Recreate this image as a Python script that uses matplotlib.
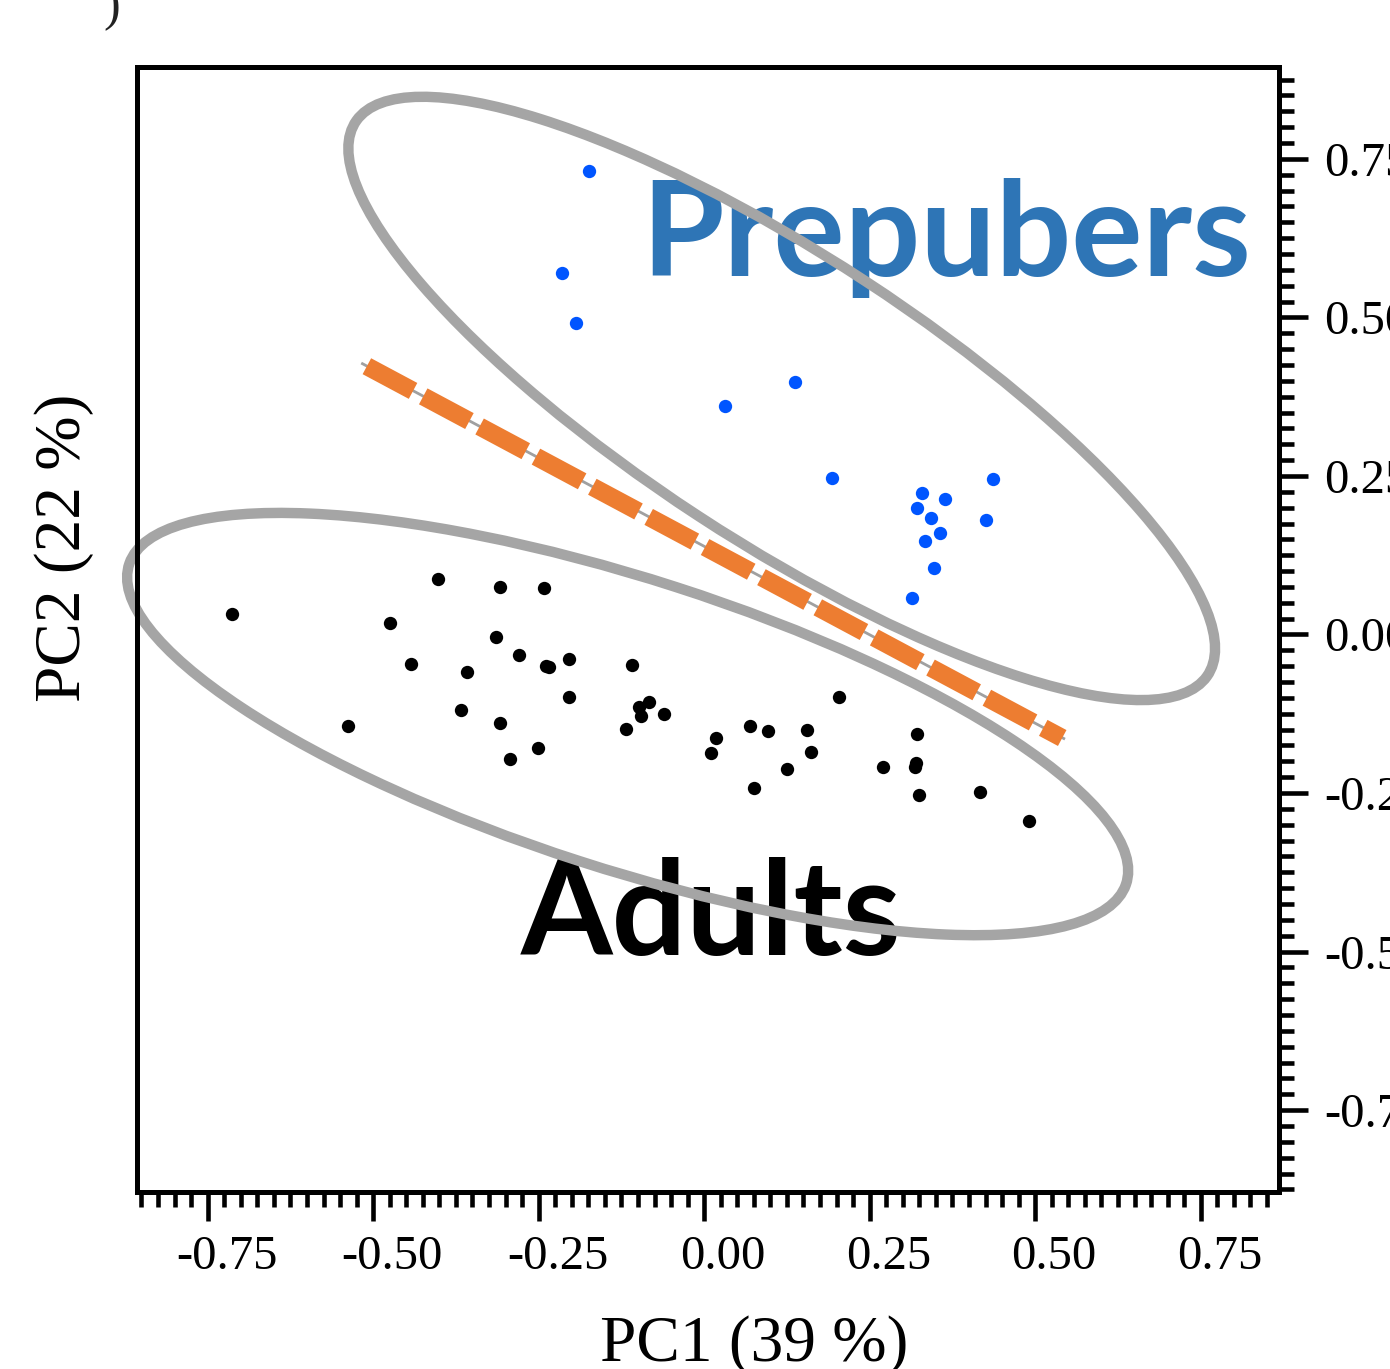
import matplotlib
matplotlib.use("Agg")
import matplotlib.pyplot as plt
from matplotlib.patches import Ellipse
from matplotlib.ticker import MultipleLocator, FormatStrFormatter
from matplotlib.transforms import ScaledTranslation

plt.rcParams["font.family"] = "Liberation Serif"
plt.rcParams["axes.unicode_minus"] = False

# PCA scores
prepubers_pc1 = [-0.1733, -0.2145, -0.1929, 0.1370, 0.0322, 0.1929, 0.4370, 0.3289,
                 0.3640, 0.3213, 0.3429, 0.4260, 0.3565, 0.3328, 0.3474, 0.3137]
prepubers_pc2 = [0.7315, 0.5707, 0.4909, 0.3978, 0.3609, 0.2473, 0.2448, 0.2227,
                 0.2132, 0.2000, 0.1833, 0.1806, 0.1596, 0.1475, 0.1044, 0.0571]

adults_pc1 = [-0.7125, -0.4023, -0.3077, -0.2412, -0.4743, -0.3142, -0.2790, -0.2394,
              -0.2341, -0.2035, -0.4426, -0.3576, -0.2039, -0.3671, -0.3077, -0.5373,
              -0.2503, -0.2931, -0.1088, -0.0831, -0.0977, -0.0956, -0.0604, -0.1178,
              0.2029, 0.0186, 0.0110, 0.0690, 0.0971, 0.1551, 0.1616, 0.1249,
              0.0751, 0.3218, 0.3207, 0.3177, 0.2708, 0.3243, 0.4165, 0.4899]
adults_pc2 = [0.0323, 0.0880, 0.0754, 0.0733, 0.0177, -0.0035, -0.0323, -0.0489,
              -0.0505, -0.0391, -0.0461, -0.0591, -0.0986, -0.1186, -0.1391, -0.1448,
              -0.1785, -0.1964, -0.0476, -0.1060, -0.1139, -0.1285, -0.1259, -0.1486,
              -0.0986, -0.1628, -0.1874, -0.1443, -0.1522, -0.1511, -0.1849, -0.2121,
              -0.2426, -0.1565, -0.2022, -0.2085, -0.2095, -0.2532, -0.2489, -0.2942]

# group ellipses: centre, width, height, angle
prepubers_ell = (0.1171, 0.3722, 1.555, 0.448, -34.3)
adults_ell = (-0.1156, -0.1412, 1.588, 0.456, -18.6)

# separating line
sep_x = [-0.518, 0.545]
sep_y = [0.428, -0.165]
dash_x = [-0.5095, 0.5408]
dash_y = [0.4230, -0.1632]

fig = plt.figure(figsize=(13.9, 13.69), dpi=100)
ax = fig.add_axes([0.0989, 0.1293, 0.8216, 0.8214])

ax.text(0.3663, 0.5655, "Prepubers", family="Lato", weight="bold", fontsize=96,
        color="#2e75b6", ha="center", va="baseline", zorder=1)
ax.text(0.0106, -0.5055, "Adults", family="Lato", weight="bold", fontsize=95,
        color="black", ha="center", va="baseline", zorder=1)

for cx, cy, w, h, ang in (prepubers_ell, adults_ell):
    ax.add_patch(Ellipse((cx, cy), w, h, angle=ang, fill=False, edgecolor="#a5a5a5",
                         linewidth=7.5, clip_on=False, zorder=1.5))

ax.plot(sep_x, sep_y, color="#a0a0a0", linewidth=2, solid_capstyle="butt", zorder=3)
ax.plot(dash_x, dash_y, color="#ed7d31", linewidth=13, dashes=(2.9, 0.64),
        dash_capstyle="butt", zorder=3.1)

ax.scatter(prepubers_pc1, prepubers_pc2, s=92, color="#0055ff", linewidths=0, zorder=4)
ax.scatter(adults_pc1, adults_pc2, s=92, color="black", linewidths=0, zorder=4)

ax.set_xlim(-0.856, 0.869)
ax.set_ylim(-0.879, 0.894)

ax.xaxis.set_major_locator(MultipleLocator(0.25))
ax.xaxis.set_minor_locator(MultipleLocator(0.025))
ax.yaxis.set_major_locator(MultipleLocator(0.25))
ax.yaxis.set_minor_locator(MultipleLocator(0.025))
ax.xaxis.set_major_formatter(FormatStrFormatter("%.2f"))
ax.yaxis.set_major_formatter(FormatStrFormatter("%.2f"))

ax.tick_params(which="both", direction="out", bottom=True, right=True, left=False, top=False,
               labelleft=False, labelright=True, labelsize=35, width=3.3)
ax.tick_params(which="major", length=21)
ax.tick_params(axis="x", which="major", pad=10)
ax.tick_params(axis="y", which="major", pad=11)
ax.tick_params(which="minor", length=11)

# x tick labels sit a little right of their ticks in the original
shift = ScaledTranslation(19 / 100, 0, fig.dpi_scale_trans)
for lbl in ax.get_xticklabels():
    lbl.set_transform(lbl.get_transform() + shift)

for sp in ax.spines.values():
    sp.set_linewidth(3.6)
    sp.set_zorder(5)

ax.set_xlabel("PC1 (39 %)", fontsize=47, va="baseline")
ax.xaxis.set_label_coords(0.54, -0.1503)
ax.set_ylabel("PC2 (22 %)", fontsize=47, va="baseline")
ax.yaxis.set_label_coords(-0.0503, 0.5731)

fig.text(112 / 1390, 1 - 8 / 1369, ")", fontsize=36, color="#222222", ha="center", va="center")

fig.savefig("out.png", dpi=100)
